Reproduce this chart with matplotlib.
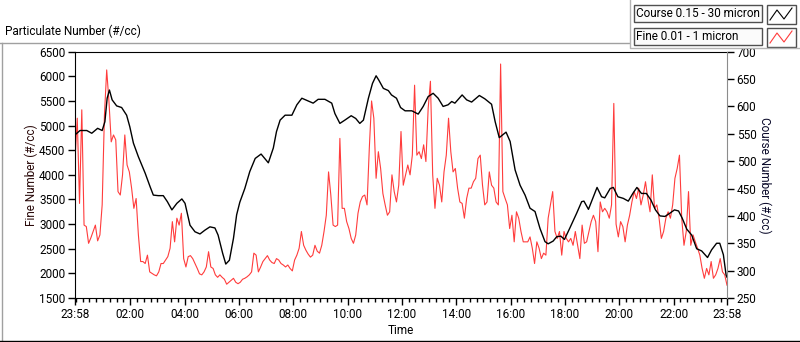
import numpy as np
import matplotlib.pyplot as plt
from matplotlib import ticker
from matplotlib.patches import Rectangle

# Fine 0.01 - 1 micron (#/cc), one reading every 5 min starting 23:58
fine = [4300, 5150, 3420, 5320, 2980, 2950, 2610, 2720, 2850, 2980, 2660, 2780,
        3390, 5210, 6130, 5490, 4670, 4810, 4710, 3660, 3590, 4000, 4810, 4200,
        4060, 3730, 3320, 3520, 2780, 2240, 2240, 2200, 2370, 2030, 2000, 1970,
        1950, 2030, 2200, 2200, 2270, 2340, 2510, 3050, 2640, 3120, 2980, 3220,
        2300, 2130, 2340, 2360, 2300, 2200, 2100, 1990, 1970, 2030, 2130, 2440,
        2130, 2100, 1970, 1920, 1970, 1920, 1880, 1780, 1820, 1860, 1900, 1820,
        1790,
        1820, 1880, 1900, 1930, 1970, 2030, 2410, 2370, 2030, 2130, 2240, 2300,
        2360, 2270, 2220, 2200, 2300, 2270, 2200, 2170, 2130, 2170, 2100, 2050,
        2270, 2370, 2510, 2850, 2570, 2470, 2390, 2330, 2370, 2570, 2450, 2410,
        2570, 2850, 3180, 4060, 3590, 2980, 2950, 2980, 4740, 3320, 3320, 3050,
        2910, 2710, 2610, 2780, 3220, 3450, 3560, 3590, 3390, 4540, 5500, 5150,
        3930, 4470, 4130, 3620, 3390, 3180, 3250, 4000, 3660, 3450, 3790, 4880, 3790,
        4000, 4200, 4000, 4400, 5820, 4400, 4470, 4330, 4610, 4270, 5350, 5900,
        4000, 3320, 3930, 3790, 3450, 4060, 4400, 5150, 4470, 4060, 4130, 3730,
        3450, 3420, 3120, 3520, 3730, 3730, 3860, 3930, 4330, 4400, 3790, 3390,
        3450, 4060, 3790, 3730, 3450, 3390, 6250, 3660, 3520, 3390, 2910, 3180,
        2640, 3250, 3120, 2850, 2640, 2640, 2640, 2740, 2510, 2200, 2640, 2510,
        2300, 2410, 2370, 3120, 3390, 3660, 2850, 2710, 2850, 2370, 2850, 2710, 2640,
        2710, 2570, 2850, 2570, 2300, 2980, 2610, 2640, 2850, 3050, 3180, 3050,
        2440, 3450, 3250, 3320, 3250, 3120, 3390, 5450, 3000, 2740, 3050, 2950,
        2640, 2980, 3180, 3450, 3660, 3520, 3730, 3390, 3590, 3860, 3520, 3250,
        4000, 3320, 3390, 3120, 2710, 2850, 3120, 3250, 3120, 3390, 3930, 4130,
        4400, 3120, 2570, 2850, 3660, 2570, 2780, 2640, 2510, 2370, 2100, 1900,
        2100, 1970, 2240, 1900, 1970, 2100, 2300, 2030, 1970, 1760]

# Course 0.15 - 30 micron (#/cc), minutes after 23:58
course_min = [0, 11, 26, 37, 50, 60, 66, 71, 76, 82, 92, 103, 114, 121, 129, 140,
              155, 166, 173, 184, 195, 204, 214, 225, 236, 243, 254, 265, 276, 287,
              298, 309, 316, 326, 333, 341, 350, 357, 364, 375, 386, 398, 411, 427,
              438, 445, 453, 464, 479, 490, 501, 515, 526, 537, 552, 567, 574, 585,
              596, 610, 620, 629, 637, 648, 657, 665, 671, 681, 692, 699, 710, 719,
              729, 744, 758, 769, 780, 791, 802, 813, 824, 832, 839, 855, 865, 876,
              893, 905, 920, 928, 937, 952, 961, 972, 983, 994, 1005, 1016, 1027,
              1038, 1045, 1056, 1064, 1073, 1081, 1093, 1108, 1119, 1124, 1134,
              1145, 1153, 1163, 1170, 1182, 1189, 1199, 1211, 1222, 1232, 1241,
              1251, 1262, 1272, 1282, 1292, 1303, 1314, 1324, 1333, 1341, 1351,
              1362, 1373, 1384, 1397, 1406, 1417, 1424, 1432, 1438, 1440]
course = [548, 556, 556, 551, 560, 556, 572, 615, 630, 612, 601, 598, 584, 563, 533, 508,
          478, 453, 438, 437, 437, 426, 411, 423, 431, 423, 383, 371, 367, 374,
          380, 378, 365, 332, 312, 319, 359, 402, 425, 450, 481, 505, 513, 497,
          524, 554, 575, 584, 584, 603, 615, 610, 606, 613, 613, 606, 587, 569,
          575, 583, 578, 569, 575, 615, 642, 656, 648, 633, 629, 621, 615, 598,
          592, 592, 586, 600, 618, 624, 615, 600, 603, 609, 606, 621, 612, 608,
          620, 614, 604, 572, 543, 553, 536, 484, 456, 438, 414, 408, 377,
          353, 349, 354, 362, 363, 357, 378, 405, 426, 427, 412,
          435, 452, 435, 433, 450, 452, 435, 432, 427, 441, 452,
          441, 441, 429, 411, 400, 399, 405, 411, 409, 396, 376,
          365, 340, 336, 324, 338, 350, 350, 329, 292, 288]

time_ticks = [0, 122, 242, 362, 482, 602, 722, 842, 962, 1082, 1202, 1322, 1440]
time_labels = ['23:58', '02:00', '04:00', '06:00', '08:00', '10:00', '12:00',
               '14:00', '16:00', '18:00', '20:00', '22:00', '23:58']

fine_min = np.linspace(0, 1440, len(fine))

plt.rcParams['font.family'] = ['Roboto', 'DejaVu Sans']
plt.rcParams['font.size'] = 8.5

W, H = 800, 342
fig = plt.figure(figsize=(W / 100, H / 100), dpi=100)

# background frame in pixel coordinates
bg = fig.add_axes([0, 0, 1, 1], zorder=-5)
bg.set_xlim(0, W)
bg.set_ylim(H, 0)
bg.axis('off')
bg.plot([0, 632], [42.5, 42.5], color='#a0a0a0', lw=1)
bg.plot([1.5, 1.5], [42.5, 341], color='#a0a0a0', lw=1)
bg.plot([0, W], [340.5, 340.5], color='black', lw=1)
bg.text(5, 31, 'Particulate Number (#/cc)', fontsize=8.5, va='center', ha='left')

ax = fig.add_axes([75 / W, 1 - 298 / H, 652 / W, (298 - 51.7) / H])
ax.plot(fine_min, fine, color='#ff3c3c', lw=0.8)
ax.set_xlim(0, 1440)
ax.set_ylim(1500, 6500)
ax.set_yticks(np.arange(1500, 6501, 500))
ax.set_xticks(time_ticks)
ax.set_xticklabels(time_labels)
ax.xaxis.set_minor_locator(ticker.MultipleLocator(15, offset=2))
ax.tick_params(axis='both', which='major', length=5, width=1, pad=2, labelsize=8.5)
ax.tick_params(axis='x', which='minor', length=3, width=1)
ax.set_xlabel('Time', fontsize=8.5, labelpad=2)
ax.set_ylabel('Fine Number (#/cc)', fontsize=8.5, labelpad=1, color='#2a0a0a')
ax.spines['right'].set_visible(False)

ax2 = ax.twinx()
ax2.plot(course_min, course, color='black', lw=1.0)
ax2.set_ylim(250, 700)
ax2.set_yticks(np.arange(250, 701, 50))
ax2.tick_params(axis='y', length=5, width=1, pad=2, labelsize=8.5)
ax2.set_ylabel('Course Number (#/cc)', fontsize=8.5, rotation=-90, labelpad=11,
               color='#0a0a2a')
for s in ['left', 'top', 'bottom']:
    ax2.spines[s].set_visible(False)
ax2.spines['right'].set_color('#8c8c8c')

# legend panel
lg = fig.add_axes([0, 0, 1, 1], zorder=10)
lg.set_xlim(0, W)
lg.set_ylim(H, 0)
lg.axis('off')
lg.add_patch(Rectangle((630, 0), 170, 47, facecolor='white', edgecolor='none'))
lg.plot([630, 630, W], [0, 47.5, 47.5], color='#b4b4b4', lw=1)
entries = [('Course 0.15 - 30 micron', 'black', 4),
           ('Fine 0.01 - 1 micron', '#ff3c3c', 27)]
for label, col, top in entries:
    lg.add_patch(Rectangle((633.5, top + 0.5), 128, 17, facecolor='#fbfbfb',
                           edgecolor='#505050', lw=1))
    lg.text(636, top + 9.5, label, fontsize=8.5, va='center', ha='left')
    lg.add_patch(Rectangle((766.5, top + 0.5), 29, 19, facecolor='white',
                           edgecolor='#505050', lw=1))
    lg.plot([770, 777, 784, 792], [top + 16, top + 6, top + 15, top + 4],
            color=col, lw=0.8)

fig.savefig('out.png', dpi=100)
